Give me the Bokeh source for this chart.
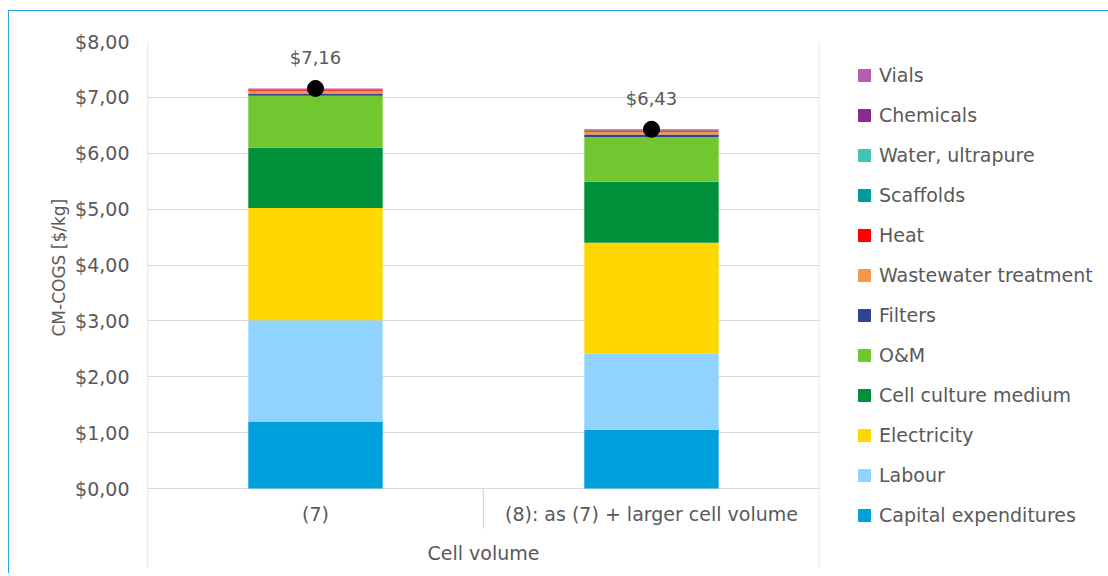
from bokeh.plotting import figure
from bokeh.models import (ColumnDataSource, Legend, LegendItem, LabelSet, FixedTicker,
                          Range1d, FactorRange, Span, Title)
from bokeh.embed import file_html
from bokeh.resources import INLINE
from bokeh.core.properties import value

# ---------------- data ----------------
categories = ["(7)", "(8): as (7) + larger cell volume"]
components = ["Capital expenditures", "Labour", "Electricity", "Cell culture medium", "O&M",
              "Filters", "Wastewater treatment", "Heat", "Scaffolds", "Water, ultrapure",
              "Chemicals", "Vials"]
capex = [1.20, 1.05]
labour = [1.81, 1.36]
electricity = [2.01, 1.99]
medium = [1.08, 1.09]
om = [0.93, 0.80]
filters = [0.04, 0.045]
wastewater = [0.05, 0.05]
heat = [0.02, 0.02]
scaffolds = [0.004, 0.004]
water = [0.003, 0.003]
chemicals = [0.003, 0.003]
vials = [0.01, 0.015]
y_ticks = [0, 1, 2, 3, 4, 5, 6, 7, 8]
y_tick_labels = ["$0,00", "$1,00", "$2,00", "$3,00", "$4,00", "$5,00", "$6,00", "$7,00", "$8,00"]
x_title = "Cell volume"
y_title = "CM-COGS [$/kg]"

series = [capex, labour, electricity, medium, om, filters, wastewater, heat,
          scaffolds, water, chemicals, vials]
colors = ["#00A0DC", "#8FD3FE", "#FFD700", "#00913A", "#72C62F", "#2E4593",
          "#F79646", "#FF0000", "#009B9B", "#40C4B4", "#8C2A8E", "#B65FB0"]

keys = ["s%d" % i for i in range(len(series))]
data = {"cat": categories}
for k, s in zip(keys, series):
    data[k] = s
totals = [sum(s[i] for s in series) for i in range(len(categories))]
data["total"] = totals
data["total_label"] = [("$%.2f" % t).replace(".", ",") for t in totals]
source = ColumnDataSource(data)

TEXT = "#595959"
GRID = "#D9D9D9"
FONT = "DejaVu Sans"

FRAME_H = 527
Y_MAX = 8
AXIS_AREA_PX = 80          # height of the category-label band under the $0 line
SEP_PX = 40                # inner separator length
y_min = -AXIS_AREA_PX * Y_MAX / (FRAME_H - AXIS_AREA_PX)
px_per_unit = (FRAME_H - AXIS_AREA_PX) / Y_MAX

p = figure(frame_width=672, frame_height=FRAME_H,
           x_range=FactorRange(*categories, range_padding=0),
           y_range=Range1d(y_min, Y_MAX), output_backend="svg", toolbar_location=None,
           min_border_left=138, min_border_right=289, min_border_top=30, min_border_bottom=5,
           background_fill_color="white", border_fill_color="white")
p.styles = {"border-left": "1px solid #2EA8E0", "border-top": "1px solid #2EA8E0",
            "margin-top": "10px", "margin-left": "8px"}
p.outline_line_color = None

renderers = p.vbar_stack(keys, x="cat", width=0.4, color=colors, line_color=None, source=source)

p.scatter(x="cat", y="total", size=16, color="black", source=source)
labels = LabelSet(x="cat", y="total", text="total_label", source=source, y_offset=31,
                  text_align="center", text_baseline="middle", text_color=TEXT,
                  text_font=value(FONT), text_font_size="18px")
p.add_layout(labels)

# category table lines
n = len(categories)
for edge in (0, n):
    p.add_layout(Span(location=edge, dimension="height", line_color=GRID, line_width=1.3))
p.segment(x0=list(range(1, n)), y0=[0] * (n - 1), x1=list(range(1, n)),
          y1=[-SEP_PX / px_per_unit] * (n - 1), line_color=GRID, line_width=1.3)

# axes
p.xgrid.grid_line_color = None
p.ygrid.grid_line_color = GRID
p.ygrid.grid_line_width = 1.2
p.ygrid.ticker = FixedTicker(ticks=y_ticks)
p.yaxis.ticker = FixedTicker(ticks=y_ticks)
p.yaxis.major_label_overrides = {t: l for t, l in zip(y_ticks, y_tick_labels)}
for ax in (p.xaxis[0], p.yaxis[0]):
    ax.axis_line_color = None
    ax.major_tick_line_color = None
    ax.minor_tick_line_color = None
    ax.major_tick_out = 0
    ax.major_tick_in = 0
    ax.major_label_text_color = TEXT
    ax.major_label_text_font = FONT
    ax.major_label_text_font_size = "19px"
    ax.axis_label_text_color = TEXT
    ax.axis_label_text_font = FONT
    ax.axis_label_text_font_style = "normal"
    ax.axis_label_text_font_size = "19px"
p.xaxis.fixed_location = 0
p.yaxis.major_label_standoff = 18
p.xaxis.major_label_standoff = 14
p.xaxis.axis_label = x_title
p.xaxis.axis_label_standoff = 14

# y title, centred on the value part of the frame (above the category band)
Y_TITLE_SIZE = 17
title_len = 8.4 * Y_TITLE_SIZE              # rendered width of the title
value_center_from_bottom = AXIS_AREA_PX + (FRAME_H - AXIS_AREA_PX) / 2
p.add_layout(Title(text=y_title, align="left", vertical_align="bottom",
                   offset=int(round(value_center_from_bottom - title_len / 2)),
                   standoff=8, text_color=TEXT, text_font=FONT,
                   text_font_size="%dpx" % Y_TITLE_SIZE, text_font_style="normal"), "left")

# legend swatches (one hidden NaN point each; top item = last stacked component)
swatches = [p.scatter(x=[categories[0]], y=[float("nan")], marker="square", size=12,
                      fill_color=c, line_color=c)
            for c in colors]
items = [LegendItem(label=components[i], renderers=[swatches[i]])
         for i in reversed(range(len(components)))]
legend = Legend(items=items, location=(30, 38), orientation="vertical",
                glyph_width=30, glyph_height=30, label_height=22, spacing=10,
                label_standoff=0, padding=0, margin=0, border_line_color=None,
                background_fill_alpha=0, label_text_color=TEXT,
                label_text_font=FONT, label_text_font_size="19px")
p.add_layout(legend, "right")

open("out.html", "w").write(file_html(p, INLINE))
